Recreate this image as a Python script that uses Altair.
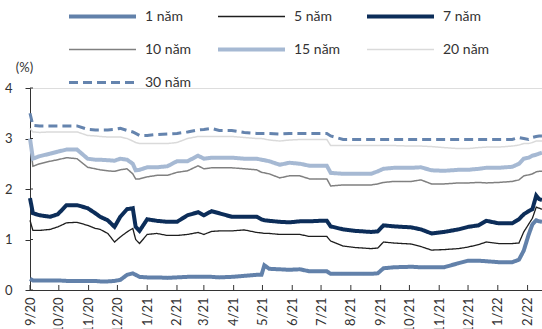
import altair as alt
import pandas as pd

# ---- data ----
dates = [
    "2020-09-01", "2020-09-04", "2020-09-11", "2020-09-22", "2020-09-30", "2020-10-09",
    "2020-10-20", "2020-10-31", "2020-11-08", "2020-11-13", "2020-11-21", "2020-11-28",
    "2020-12-04", "2020-12-11", "2020-12-17", "2020-12-20", "2020-12-24", "2021-01-01",
    "2021-01-11", "2021-01-22", "2021-02-01", "2021-02-12", "2021-02-23", "2021-03-01",
    "2021-03-09", "2021-03-17", "2021-03-30", "2021-04-12", "2021-04-25", "2021-04-30",
    "2021-05-03", "2021-05-08", "2021-05-19", "2021-05-29", "2021-06-09", "2021-06-19",
    "2021-06-30", "2021-07-07", "2021-07-11", "2021-07-24", "2021-08-06", "2021-08-22",
    "2021-08-29", "2021-09-04", "2021-09-15", "2021-10-03", "2021-10-13", "2021-10-24",
    "2021-11-06", "2021-11-21", "2021-12-01", "2021-12-12", "2021-12-20", "2022-01-02",
    "2022-01-16", "2022-01-23", "2022-01-28", "2022-02-02", "2022-02-06", "2022-02-10",
    "2022-02-13", "2022-02-16",
]

y1 = [0.22, 0.19, 0.19, 0.19, 0.19, 0.18, 0.18, 0.18, 0.18, 0.17, 0.17, 0.18,
      0.20, 0.30, 0.33, 0.30, 0.26, 0.25, 0.25, 0.24, 0.25, 0.26, 0.26, 0.26,
      0.26, 0.25, 0.26, 0.28, 0.30, 0.30, 0.49, 0.42, 0.41, 0.40, 0.41, 0.37,
      0.37, 0.37, 0.32, 0.32, 0.32, 0.32, 0.33, 0.43, 0.45, 0.46, 0.45, 0.45,
      0.45, 0.53, 0.58, 0.58, 0.57, 0.55, 0.55, 0.60, 0.78, 1.09, 1.30, 1.38,
      1.36, 1.35]
y5 = [1.38, 1.18, 1.18, 1.20, 1.25, 1.33, 1.34, 1.28, 1.22, 1.20, 1.12, 0.95,
      1.05, 1.15, 1.22, 1.00, 0.92, 1.10, 1.12, 1.08, 1.08, 1.10, 1.14, 1.10,
      1.16, 1.17, 1.17, 1.19, 1.14, 1.13, 1.12, 1.12, 1.10, 1.10, 1.10, 1.06,
      1.06, 1.06, 0.97, 0.87, 0.84, 0.82, 0.83, 0.95, 0.93, 0.91, 0.86, 0.79,
      0.80, 0.82, 0.85, 0.90, 0.95, 0.92, 0.92, 0.93, 1.15, 1.30, 1.42, 1.64,
      1.62, 1.60]
y7 = [1.82, 1.52, 1.48, 1.45, 1.50, 1.68, 1.68, 1.62, 1.52, 1.45, 1.38, 1.25,
      1.45, 1.60, 1.62, 1.25, 1.17, 1.40, 1.37, 1.35, 1.35, 1.48, 1.54, 1.48,
      1.56, 1.52, 1.45, 1.45, 1.45, 1.40, 1.38, 1.37, 1.35, 1.34, 1.36, 1.36,
      1.37, 1.37, 1.26, 1.20, 1.17, 1.15, 1.16, 1.28, 1.26, 1.24, 1.20, 1.12,
      1.15, 1.20, 1.25, 1.28, 1.37, 1.32, 1.32, 1.40, 1.50, 1.56, 1.60, 1.87,
      1.80, 1.78]
y10 = [2.95, 2.45, 2.50, 2.55, 2.58, 2.62, 2.60, 2.43, 2.40, 2.38, 2.36, 2.35,
       2.38, 2.40, 2.30, 2.20, 2.20, 2.24, 2.27, 2.27, 2.33, 2.36, 2.46, 2.40,
       2.42, 2.42, 2.42, 2.40, 2.38, 2.33, 2.32, 2.30, 2.22, 2.26, 2.26, 2.20,
       2.20, 2.20, 2.06, 2.08, 2.08, 2.08, 2.10, 2.13, 2.15, 2.15, 2.18, 2.10,
       2.10, 2.12, 2.12, 2.13, 2.12, 2.13, 2.15, 2.18, 2.26, 2.28, 2.30, 2.34,
       2.35, 2.35]
y15 = [3.00, 2.60, 2.65, 2.70, 2.74, 2.78, 2.78, 2.60, 2.58, 2.58, 2.57, 2.56,
       2.60, 2.58, 2.50, 2.37, 2.38, 2.43, 2.43, 2.45, 2.55, 2.55, 2.66, 2.60,
       2.62, 2.62, 2.62, 2.60, 2.60, 2.58, 2.57, 2.55, 2.48, 2.52, 2.50, 2.46,
       2.46, 2.46, 2.32, 2.30, 2.30, 2.30, 2.35, 2.40, 2.42, 2.42, 2.43, 2.37,
       2.36, 2.38, 2.38, 2.40, 2.42, 2.42, 2.44, 2.50, 2.60, 2.62, 2.66, 2.68,
       2.70, 2.72]
y20 = [3.20, 3.13, 3.12, 3.13, 3.13, 3.13, 3.13, 3.06, 3.05, 3.04, 3.03, 3.03,
       3.03, 3.00, 2.95, 2.92, 2.90, 2.90, 2.90, 2.90, 2.92, 3.00, 3.04, 3.04,
       3.04, 3.04, 3.04, 3.02, 3.00, 3.00, 2.99, 2.97, 2.95, 2.97, 2.98, 2.98,
       2.98, 2.98, 2.86, 2.86, 2.86, 2.86, 2.86, 2.86, 2.86, 2.85, 2.85, 2.84,
       2.82, 2.80, 2.80, 2.82, 2.83, 2.83, 2.85, 2.87, 2.90, 2.90, 2.92, 2.95,
       2.95, 2.95]
y30 = [3.50, 3.26, 3.25, 3.25, 3.25, 3.25, 3.25, 3.18, 3.17, 3.17, 3.17, 3.18,
       3.20, 3.16, 3.13, 3.10, 3.06, 3.06, 3.08, 3.09, 3.10, 3.13, 3.17, 3.18,
       3.20, 3.16, 3.16, 3.12, 3.10, 3.10, 3.10, 3.10, 3.09, 3.10, 3.10, 3.10,
       3.10, 3.10, 3.05, 2.98, 2.98, 2.98, 2.98, 2.98, 2.98, 2.98, 2.98, 2.98,
       2.98, 2.98, 2.98, 2.98, 2.98, 2.98, 2.98, 3.02, 3.00, 2.98, 3.02, 3.04,
       3.05, 3.05]

series_names = ["1 năm", "5 năm", "7 năm", "10 năm", "15 năm", "20 năm", "30 năm"]
series_values = [y1, y5, y7, y10, y15, y20, y30]

month_ticks = [
    "2020-09-01", "2020-10-01", "2020-11-01", "2020-12-01", "2021-01-01", "2021-02-01",
    "2021-03-01", "2021-04-01", "2021-05-01", "2021-06-01", "2021-07-01", "2021-08-01",
    "2021-09-01", "2021-10-01", "2021-11-01", "2021-12-01", "2022-01-01", "2022-02-01",
]
y_ticks = [0, 1, 2, 3, 4]

# ---- styles ----
colors = ["#6281aa", "#1e1e1e", "#0c2d59", "#808080", "#a6b9d3", "#dadada", "#6584ae"]
widths = [4, 1.3, 4, 1.5, 4, 1.5, 3]
dashes = [[1, 0], [1, 0], [1, 0], [1, 0], [1, 0], [1, 0], [9, 5]]

rows = []
for name, vals in zip(series_names, series_values):
    for d, v in zip(dates, vals):
        rows.append({"date": pd.Timestamp(d), "series": name, "value": v})
df = pd.DataFrame(rows)
ticks_df = pd.DataFrame({"date": [pd.Timestamp(d) for d in month_ticks]})
yt_df = pd.DataFrame({"value": y_ticks})

W, H = 512, 202
FONT = "Lato"

x_vals = [alt.DateTime(year=int(d[:4]), month=int(d[5:7]), date=1) for d in month_ticks]

x_enc = alt.X("date:T",
              scale=alt.Scale(nice=False),
              axis=alt.Axis(title=None, values=x_vals, format="%-m/%y", labelAngle=270,
                            labelAlign="right", labelBaseline="middle", labelPadding=7,
                            ticks=False, grid=False, labelOverlap=False, labelFlush=False,
                            domainColor="#333333", labelColor="#333333", labelFontSize=13,
                            labelFont=FONT))
y_enc = alt.Y("value:Q",
              scale=alt.Scale(domain=[0, 4], nice=False),
              axis=alt.Axis(title="(%)", values=y_ticks, format="d", grid=False, tickSize=5,
                            tickColor="#333333", domainColor="#333333",
                            labelPadding=13, labelColor="#333333", labelFontSize=13,
                            labelFont=FONT, titleAngle=0, titleX=-6, titleY=-21,
                            titleAlign="center", titleBaseline="middle",
                            titleFontWeight="normal", titleFontSize=13,
                            titleColor="#333333", titleFont=FONT))

legend = alt.Legend(title=None, orient="none", legendX=37, legendY=-79,
                    direction="horizontal", columns=3, symbolType="stroke",
                    symbolSize=4489, columnPadding=24, rowPadding=18, clipHeight=15,
                    labelOffset=7, labelFontSize=14, labelColor="#333333",
                    labelFont=FONT, padding=0)

lines = alt.Chart(df).mark_line(strokeCap="butt").encode(
    x=x_enc,
    y=y_enc,
    color=alt.Color("series:N", sort=series_names,
                    scale=alt.Scale(domain=series_names, range=colors),
                    legend=legend),
    strokeWidth=alt.StrokeWidth("series:N", sort=series_names,
                                scale=alt.Scale(type="ordinal", domain=series_names,
                                                range=widths),
                                legend=legend),
    strokeDash=alt.StrokeDash("series:N", sort=series_names,
                              scale=alt.Scale(type="ordinal", domain=series_names,
                                              range=dashes),
                              legend=legend),
    order=alt.Order("date:T"),
)

xticks = alt.Chart(ticks_df).mark_rule(color="#333333", strokeWidth=1).encode(
    x=x_enc, y=alt.value(H), y2=alt.value(H - 5)
)
yticks_in = alt.Chart(yt_df).mark_rule(color="#333333", strokeWidth=1).encode(
    y=y_enc, x=alt.value(0), x2=alt.value(3)
)

chart = alt.layer(lines, xticks, yticks_in).properties(
    width=W, height=H,
    padding={"left": 30, "top": 88, "right": 0, "bottom": 39},
    autosize=alt.AutoSizeParams(type="none"),
).configure_view(stroke=None).configure(font=FONT)

chart.save("out.html", embed_options={"renderer": "svg", "actions": False})
